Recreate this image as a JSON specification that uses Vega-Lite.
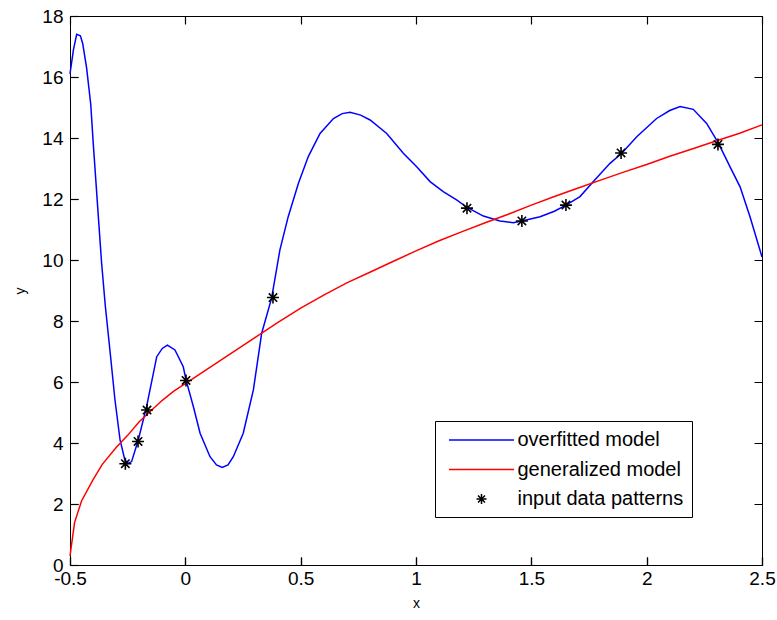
{
  "$schema": "https://vega.github.io/schema/vega-lite/v6.json",
  "autosize": {"type": "none"},
  "width": 692,
  "height": 549,
  "padding": {"left": 70, "top": 16, "right": 15, "bottom": 55},
  "background": "white",
  "config": {
    "view": {"stroke": "black", "strokeWidth": 1},
    "axis": {
      "labelColor": "black",
      "labelFont": "Liberation Sans",
      "labelFontSize": 19,
      "labelFlush": false,
      "titleFont": "Liberation Sans",
      "titleFontSize": 14,
      "titleFontWeight": "normal",
      "titleColor": "black"
    }
  },
  "datasets": {
    "overfitted": [
      {"x": -0.5, "y": 16.1}, {"x": -0.485, "y": 16.9}, {"x": -0.471, "y": 17.4}, {"x": -0.455, "y": 17.35},
      {"x": -0.445, "y": 17.1}, {"x": -0.428, "y": 16.3}, {"x": -0.41, "y": 15.1}, {"x": -0.399, "y": 13.8},
      {"x": -0.387, "y": 12.5}, {"x": -0.376, "y": 11.3}, {"x": -0.363, "y": 9.9}, {"x": -0.347, "y": 8.5},
      {"x": -0.327, "y": 7.05}, {"x": -0.305, "y": 5.41}, {"x": -0.283, "y": 4.1}, {"x": -0.262, "y": 3.44},
      {"x": -0.247, "y": 3.33}, {"x": -0.233, "y": 3.39}, {"x": -0.204, "y": 4.1}, {"x": -0.168, "y": 5.19},
      {"x": -0.124, "y": 6.83}, {"x": -0.1, "y": 7.1}, {"x": -0.078, "y": 7.21}, {"x": -0.045, "y": 7.05},
      {"x": -0.009, "y": 6.5}, {"x": 0.003, "y": 6.07}, {"x": 0.035, "y": 5.19}, {"x": 0.064, "y": 4.32},
      {"x": 0.107, "y": 3.55}, {"x": 0.135, "y": 3.28}, {"x": 0.16, "y": 3.2}, {"x": 0.185, "y": 3.28},
      {"x": 0.208, "y": 3.55}, {"x": 0.251, "y": 4.32}, {"x": 0.295, "y": 5.74}, {"x": 0.331, "y": 7.6},
      {"x": 0.374, "y": 8.75}, {"x": 0.41, "y": 10.33}, {"x": 0.446, "y": 11.42}, {"x": 0.49, "y": 12.51},
      {"x": 0.533, "y": 13.39}, {"x": 0.584, "y": 14.15}, {"x": 0.642, "y": 14.64}, {"x": 0.68, "y": 14.8},
      {"x": 0.714, "y": 14.84}, {"x": 0.76, "y": 14.75}, {"x": 0.801, "y": 14.59}, {"x": 0.873, "y": 14.15},
      {"x": 0.945, "y": 13.5}, {"x": 1.003, "y": 13.06}, {"x": 1.061, "y": 12.57}, {"x": 1.118, "y": 12.24},
      {"x": 1.176, "y": 11.97}, {"x": 1.22, "y": 11.73}, {"x": 1.292, "y": 11.44}, {"x": 1.364, "y": 11.28},
      {"x": 1.422, "y": 11.22}, {"x": 1.463, "y": 11.29}, {"x": 1.538, "y": 11.42}, {"x": 1.6, "y": 11.6},
      {"x": 1.65, "y": 11.8}, {"x": 1.711, "y": 12.08}, {"x": 1.769, "y": 12.57}, {"x": 1.841, "y": 13.17},
      {"x": 1.892, "y": 13.5}, {"x": 1.957, "y": 14.04}, {"x": 2.043, "y": 14.64}, {"x": 2.1, "y": 14.9},
      {"x": 2.145, "y": 15.03}, {"x": 2.202, "y": 14.94}, {"x": 2.26, "y": 14.48}, {"x": 2.311, "y": 13.83},
      {"x": 2.361, "y": 13.06}, {"x": 2.405, "y": 12.4}, {"x": 2.448, "y": 11.42}, {"x": 2.5, "y": 10.1}
    ],
    "generalized": [
      {"x": -0.5, "y": 0.3}, {"x": -0.48, "y": 1.4}, {"x": -0.45, "y": 2.1}, {"x": -0.4, "y": 2.8},
      {"x": -0.36, "y": 3.3}, {"x": -0.3, "y": 3.85}, {"x": -0.25, "y": 4.25}, {"x": -0.2, "y": 4.7},
      {"x": -0.15, "y": 5.05}, {"x": -0.1, "y": 5.4}, {"x": -0.05, "y": 5.7}, {"x": 0.0, "y": 5.95},
      {"x": 0.1, "y": 6.45}, {"x": 0.2, "y": 6.95}, {"x": 0.3, "y": 7.45}, {"x": 0.4, "y": 7.95},
      {"x": 0.5, "y": 8.42}, {"x": 0.6, "y": 8.85}, {"x": 0.7, "y": 9.25}, {"x": 0.8, "y": 9.6},
      {"x": 0.9, "y": 9.95}, {"x": 1.0, "y": 10.3}, {"x": 1.1, "y": 10.63}, {"x": 1.2, "y": 10.93},
      {"x": 1.3, "y": 11.22}, {"x": 1.4, "y": 11.5}, {"x": 1.5, "y": 11.8}, {"x": 1.6, "y": 12.08},
      {"x": 1.7, "y": 12.35}, {"x": 1.8, "y": 12.62}, {"x": 1.9, "y": 12.88}, {"x": 2.0, "y": 13.13},
      {"x": 2.1, "y": 13.4}, {"x": 2.2, "y": 13.65}, {"x": 2.3, "y": 13.9}, {"x": 2.4, "y": 14.15},
      {"x": 2.5, "y": 14.43}
    ],
    "patterns": [
      {"x": -0.26, "y": 3.32, "series": "input data patterns"},
      {"x": -0.205, "y": 4.05, "series": "input data patterns"},
      {"x": -0.166, "y": 5.08, "series": "input data patterns"},
      {"x": 0.003, "y": 6.05, "series": "input data patterns"},
      {"x": 0.38, "y": 8.77, "series": "input data patterns"},
      {"x": 1.221, "y": 11.7, "series": "input data patterns"},
      {"x": 1.459, "y": 11.28, "series": "input data patterns"},
      {"x": 1.65, "y": 11.8, "series": "input data patterns"},
      {"x": 1.889, "y": 13.51, "series": "input data patterns"},
      {"x": 2.309, "y": 13.79, "series": "input data patterns"}
    ]
  },
  "resolve": {"scale": {"x": "independent", "y": "independent"}, "axis": {"x": "independent", "y": "independent"}},
  "layer": [
    {
      "data": {"name": "overfitted"},
      "mark": {"type": "line", "color": "#0000ff", "strokeWidth": 1.5},
      "encoding": {
        "x": {"field": "x", "type": "quantitative",
          "scale": {"domain": [-0.5, 2.5], "nice": false, "zero": false},
          "axis": {"orient": "bottom", "values": [-0.5, 0, 0.5, 1, 1.5, 2, 2.5], "labelExpr": "'' + datum.value",
            "tickSize": -8, "tickWidth": 1.2, "tickColor": "black", "domainColor": "black",
            "grid": true, "gridColor": "black", "gridOpacity": 1, "gridWidth": 1.2, "gridDash": [8, 533, 8, 2000],
            "labelPadding": 12, "title": "x", "titlePadding": 8}},
        "y": {"field": "y", "type": "quantitative",
          "scale": {"domain": [0, 18], "nice": false, "zero": false},
          "axis": {"orient": "left", "values": [0, 2, 4, 6, 8, 10, 12, 14, 16, 18], "labelExpr": "'' + datum.value",
            "tickSize": -8, "tickWidth": 1.2, "tickColor": "black", "domainColor": "black",
            "grid": true, "gridColor": "black", "gridOpacity": 1, "gridWidth": 1.2, "gridDash": [8, 676, 8, 2000],
            "labelPadding": 15, "title": "y", "titlePadding": 14}}
      }
    },
    {
      "data": {"name": "generalized"},
      "mark": {"type": "line", "color": "#ff0000", "strokeWidth": 1.5},
      "encoding": {
        "x": {"field": "x", "type": "quantitative",
          "scale": {"domain": [-0.5, 2.5], "nice": false, "zero": false}, "axis": null},
        "y": {"field": "y", "type": "quantitative",
          "scale": {"domain": [0, 18], "nice": false, "zero": false}, "axis": null}
      }
    },
    {
      "data": {"name": "patterns"},
      "mark": {"type": "point", "filled": false, "strokeWidth": 1.6, "size": 576, "opacity": 1},
      "encoding": {
        "x": {"field": "x", "type": "quantitative",
          "scale": {"domain": [-0.5, 2.5], "nice": false, "zero": false}, "axis": null},
        "y": {"field": "y", "type": "quantitative",
          "scale": {"domain": [0, 18], "nice": false, "zero": false}, "axis": null},
        "color": {"field": "series", "type": "nominal",
          "scale": {"domain": ["overfitted model", "generalized model", "input data patterns"], "range": ["#0000ff", "#ff0000", "#000000"]},
          "legend": {
            "title": null, "orient": "none", "legendX": 365, "legendY": 405,
            "strokeColor": "black", "fillColor": "white", "padding": 8, "rowPadding": 8.5,
            "symbolSize": 400, "symbolStrokeWidth": 1.5, "symbolOffset": 27.5, "labelOffset": 25,
            "labelFont": "Liberation Sans", "labelFontSize": 20, "labelColor": "black", "labelLimit": 400
          }},
        "shape": {"field": "series", "type": "nominal",
          "scale": {"domain": ["overfitted model", "generalized model", "input data patterns"],
            "range": ["M-3.25,0H3.25", "M-3.25,0H3.25", "M0,-0.5V0.5M-0.5,0H0.5M-0.35,-0.35L0.35,0.35M-0.35,0.35L0.35,-0.35"]},
          "legend": {
            "title": null, "orient": "none", "legendX": 365, "legendY": 405,
            "strokeColor": "black", "fillColor": "white", "padding": 8, "rowPadding": 8.5,
            "symbolSize": 400, "symbolStrokeWidth": 1.5, "symbolOffset": 27.5, "labelOffset": 25,
            "labelFont": "Liberation Sans", "labelFontSize": 20, "labelColor": "black", "labelLimit": 400
          }}
      }
    }
  ]
}
